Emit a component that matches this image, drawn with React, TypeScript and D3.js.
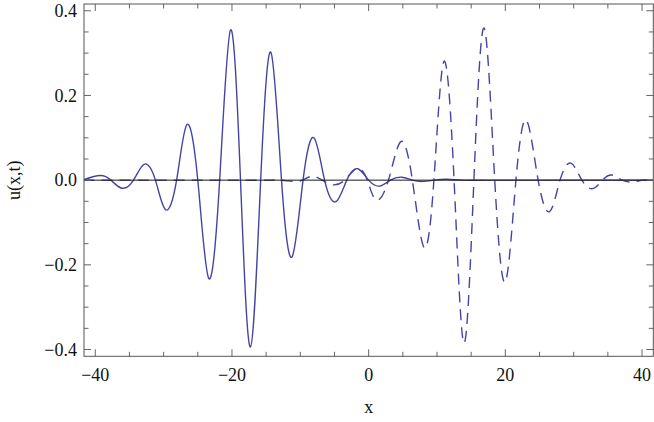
import React from 'react';
import * as d3 from 'd3';

// solid curve: extrema and crossings (x, u)
const solidX = [-41.7, -39.3, -37.7, -36.1, -34.4, -32.8, -31.2, -29.7, -28.1, -26.6, -25.0, -23.4, -21.8, -20.2, -18.75, -17.3, -15.8, -14.3, -12.75, -11.2, -9.6, -8.0, -6.45, -4.8, -3.2, -1.6, 0.0, 1.6, 3.2, 4.8, 6.4, 7.9, 9.6, 11.4, 14, 17, 20, 25, 30, 35, 41.7];
const solidU = [0.001, 0.011, 0, -0.019, 0, 0.038, 0, -0.07, 0, 0.131, 0, -0.232, 0, 0.355, 0, -0.394, 0, 0.302, 0, -0.181, 0, 0.1, 0, -0.051, 0, 0.027, 0, -0.014, 0, 0.007, 0, -0.003, 0, 0.002, 0, 0, 0, 0, 0, 0, 0];

// dashed curve
const dashedX = [-41.7, -38, -34, -30, -26, -22, -18, -15, -13, -11.1, -9.7, -8.3, -6.8, -5.3, -3.5, -1.7, -0.2, 1.1, 2.9, 4.7, 6.4, 8.1, 9.55, 11.0, 12.5, 13.95, 15.4, 16.9, 18.45, 20.0, 21.55, 23.1, 24.8, 26.5, 28.0, 29.6, 31.2, 32.8, 34.2, 35.6, 37.1, 38.6, 40.2, 41.7];
const dashedU = [0, 0, 0, 0, 0, 0, 0, 0, 0, -0.003, 0, 0.009, 0, -0.011, 0, 0.028, 0, -0.047, 0, 0.091, 0, -0.159, 0, 0.28, 0, -0.385, 0, 0.359, 0, -0.24, 0, 0.141, 0, -0.074, 0, 0.04, 0, -0.02, 0, 0.012, 0, -0.004, 0, 0];

const xTicks = [-40, -20, 0, 20, 40];
const yTicks = [0.4, 0.2, 0.0, -0.2, -0.4];

const fmtX = (v: number) => (v < 0 ? '\u2212' + Math.abs(v) : String(v));
const fmtY = (v: number) => (v < 0 ? '\u2212' + Math.abs(v).toFixed(1) : v.toFixed(1));

const App = () => {
  const width = 654;
  const height = 422;
  const left = 84, right = 653.3, top = 4, bottom = 356.3;

  const x = d3.scaleLinear().domain([-41.65, 41.65]).range([left, right]);
  const y = d3.scaleLinear().domain([-0.416, 0.416]).range([bottom, top]);

  const line = d3
    .line<[number, number]>()
    .x((d) => x(d[0]))
    .y((d) => y(d[1]))
    .curve(d3.curveNatural);

  const solid = solidX.map((v, i) => [v, solidU[i]] as [number, number]);
  const dashed = dashedX.map((v, i) => [v, dashedU[i]] as [number, number]);

  const xMinor = d3.range(-40, 41, 5);
  const yMinor = d3.range(-0.4, 0.41, 0.05);
  const major = 7;
  const minor = 4.5;
  const tickColor = '#666';
  const font = '"Liberation Serif", "Times New Roman", serif';
  const blue = '#4444a6';

  return (
    <svg width={width} height={height} style={{ position: 'absolute', left: 0, top: 0, background: '#fff' }}>
      <defs>
        <clipPath id="plot">
          <rect x={left} y={top} width={right - left} height={bottom - top} />
        </clipPath>
      </defs>

      <g clipPath="url(#plot)">
        <path d={line(solid) ?? ''} fill="none" stroke={blue} strokeWidth={1.4} />
        <path d={line(dashed) ?? ''} fill="none" stroke={blue} strokeWidth={1.4} strokeDasharray="11,7" />
        <line x1={left} x2={right} y1={y(0)} y2={y(0)} stroke="#1a1a1a" strokeWidth={1} />
      </g>

      {/* ticks on all four sides */}
      {xMinor.map((t) => {
        const len = t % 20 === 0 ? major : minor;
        return (
          <g key={'xt' + t} stroke={tickColor} strokeWidth={1}>
            <line x1={x(t)} x2={x(t)} y1={bottom} y2={bottom - len} />
            <line x1={x(t)} x2={x(t)} y1={top} y2={top + len} />
          </g>
        );
      })}
      {yMinor.map((t, i) => {
        const len = i % 4 === 0 ? major : minor;
        return (
          <g key={'yt' + i} stroke={tickColor} strokeWidth={1}>
            <line x1={left} x2={left + len} y1={y(t)} y2={y(t)} />
            <line x1={right} x2={right - len} y1={y(t)} y2={y(t)} />
          </g>
        );
      })}

      <rect x={left} y={top} width={right - left} height={bottom - top} fill="none" stroke="#555" strokeWidth={1} />

      {xTicks.map((t) => (
        <text key={'xl' + t} x={x(t)} y={381} textAnchor="middle" fontFamily={font} fontSize={18} fill="#111">
          {fmtX(t)}
        </text>
      ))}
      {yTicks.map((t) => (
        <text key={'yl' + t} x={77} y={y(t)} dy="0.34em" textAnchor="end" fontFamily={font} fontSize={18} fill="#111">
          {fmtY(t)}
        </text>
      ))}

      <text x={x(0)} y={413} textAnchor="middle" fontFamily={font} fontSize={18} fill="#111">
        x
      </text>
      <text
        transform={`translate(20,${y(0)}) rotate(-90)`}
        textAnchor="middle"
        fontFamily={font}
        fontSize={18}
        fill="#111"
      >
        u(x,t)
      </text>
    </svg>
  );
};

export default App;
